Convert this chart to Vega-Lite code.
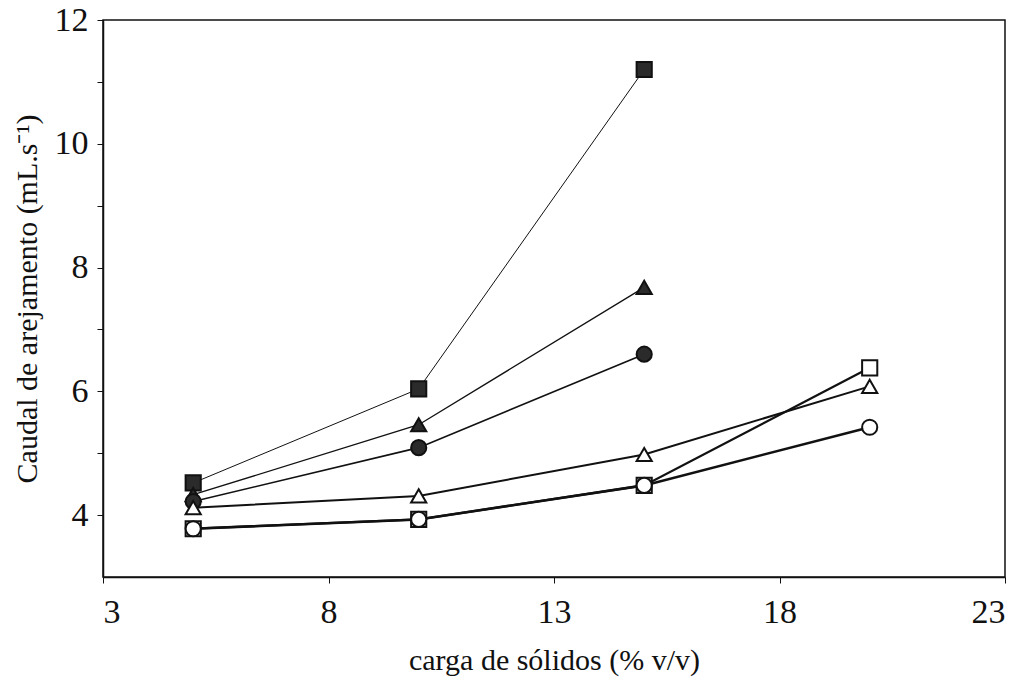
{
  "$schema": "https://vega.github.io/schema/vega-lite/v6.json",
  "width": 902,
  "height": 557,
  "autosize": {"type": "none"},
  "padding": {"left": 103, "top": 20, "right": 20, "bottom": 106},
  "background": "white",
  "config": {
    "font": "Liberation Serif",
    "view": {"stroke": "#111", "strokeWidth": 1.5},
    "axis": {
      "labelFont": "Liberation Serif",
      "titleFont": "Liberation Serif",
      "labelColor": "#111",
      "titleColor": "#111",
      "domainColor": "#111",
      "tickColor": "#111",
      "domainWidth": 1.5,
      "tickWidth": 1,
      "grid": false,
      "titleFontWeight": "normal"
    }
  },
  "data": {
    "values": [
      {"serie": "S1", "carga": 5, "caudal": 4.52},
      {"serie": "S1", "carga": 10, "caudal": 6.04},
      {"serie": "S1", "carga": 15, "caudal": 11.2},
      {"serie": "S2", "carga": 5, "caudal": 4.33},
      {"serie": "S2", "carga": 10, "caudal": 5.46},
      {"serie": "S2", "carga": 15, "caudal": 7.68},
      {"serie": "S3", "carga": 5, "caudal": 4.22},
      {"serie": "S3", "carga": 10, "caudal": 5.09},
      {"serie": "S3", "carga": 15, "caudal": 6.6},
      {"serie": "S4", "carga": 5, "caudal": 4.12},
      {"serie": "S4", "carga": 10, "caudal": 4.31},
      {"serie": "S4", "carga": 15, "caudal": 4.98},
      {"serie": "S4", "carga": 20, "caudal": 6.08},
      {"serie": "S5", "carga": 5, "caudal": 3.78},
      {"serie": "S5", "carga": 10, "caudal": 3.93},
      {"serie": "S5", "carga": 15, "caudal": 4.48},
      {"serie": "S5", "carga": 20, "caudal": 6.38},
      {"serie": "S6", "carga": 5, "caudal": 3.78},
      {"serie": "S6", "carga": 10, "caudal": 3.93},
      {"serie": "S6", "carga": 15, "caudal": 4.48},
      {"serie": "S6", "carga": 20, "caudal": 5.42}
    ]
  },
  "encoding": {
    "x": {
      "field": "carga",
      "type": "quantitative",
      "scale": {"domain": [3, 23], "nice": false, "zero": false},
      "axis": {
        "title": "carga de sólidos (% v/v)",
        "values": [3, 8, 13, 18, 23],
        "labelFontSize": 34,
        "titleFontSize": 30,
        "tickSize": 6,
        "labelPadding": 12,
        "titlePadding": 16
      }
    },
    "y": {
      "field": "caudal",
      "type": "quantitative",
      "scale": {"domain": [3, 12], "nice": false, "zero": false},
      "axis": {
        "title": "Caudal de arejamento (mL.s⁻¹)",
        "values": [4, 5, 6, 7, 8, 9, 10, 11, 12],
        "labelExpr": "datum.value % 2 == 0 ? datum.label : ''",
        "labelFontSize": 34,
        "titleFontSize": 30,
        "tickSize": 6,
        "labelPadding": 9,
        "titlePadding": 12
      }
    }
  },
  "layer": [
    {
      "mark": {"type": "line", "color": "#111"},
      "encoding": {
        "detail": {"field": "serie"},
        "strokeWidth": {
          "field": "serie",
          "type": "nominal",
          "scale": {"domain": ["S1", "S2", "S3", "S4", "S5", "S6"], "range": [1, 2.6, 2.6, 2.4, 2.4, 2.4]},
          "legend": null
        }
      }
    },
    {
      "mark": {"type": "point", "size": 230, "stroke": "#111", "strokeWidth": 2, "opacity": 1, "filled": false},
      "encoding": {
        "shape": {
          "field": "serie",
          "type": "nominal",
          "scale": {"domain": ["S1", "S2", "S3", "S4", "S5", "S6"], "range": ["square", "triangle-up", "circle", "triangle-up", "square", "circle"]},
          "legend": null
        },
        "fill": {
          "field": "serie",
          "type": "nominal",
          "scale": {"domain": ["S1", "S2", "S3", "S4", "S5", "S6"], "range": ["#2b2b2b", "#2b2b2b", "#2b2b2b", "white", "white", "white"]},
          "legend": null
        },
        "fillOpacity": {"value": 1}
      }
    }
  ]
}
